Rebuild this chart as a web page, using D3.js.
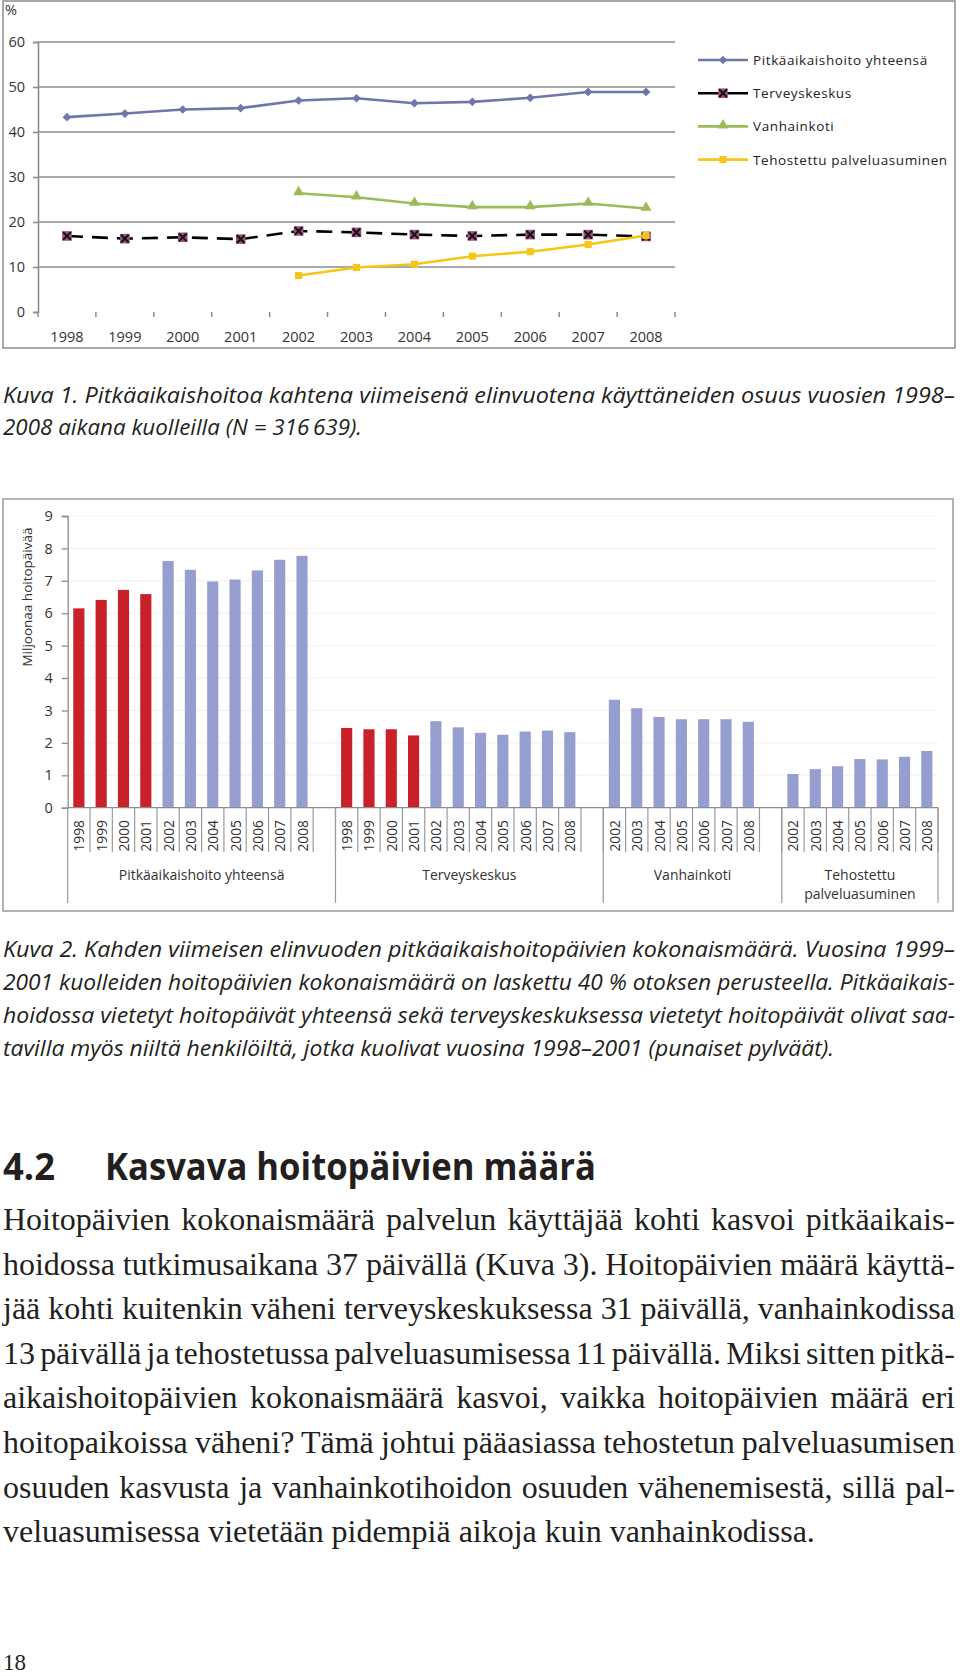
<!DOCTYPE html>
<html>
<head>
<meta charset="utf-8">
<script src="https://cdn.jsdelivr.net/npm/d3@7/dist/d3.min.js"></script>
<style>
body { margin: 0; background: #fff; }
svg { display: block; }
</style>
</head>
<body>
<svg id="page" width="960" height="1676"></svg>
<script>
// ---- Kuva 1: osuus kuolleista (%) ----
const years = ["1998", "1999", "2000", "2001", "2002", "2003", "2004", "2005", "2006", "2007", "2008"];
const yearsLate = ["2002", "2003", "2004", "2005", "2006", "2007", "2008"];
const shareTotal = [43.3, 44.1, 45.0, 45.3, 47.0, 47.5, 46.4, 46.7, 47.6, 48.9, 48.9];
const shareHealthCentre = [16.9, 16.3, 16.6, 16.2, 18.0, 17.7, 17.2, 16.9, 17.2, 17.2, 16.8];
const shareNursingHome = [26.4, 25.5, 24.1, 23.3, 23.3, 24.1, 23.0];
const shareServiceHousing = [8.1, 9.9, 10.6, 12.4, 13.4, 15.0, 17.0];
const shareTicks = [0, 10, 20, 30, 40, 50, 60];
const seriesNames = ["Pitkäaikaishoito yhteensä", "Terveyskeskus", "Vanhainkoti", "Tehostettu palveluasuminen"];

// ---- Kuva 2: hoitopäivät (miljoonaa) ----
const daysTotal = [6.15, 6.41, 6.72, 6.59, 7.61, 7.34, 6.98, 7.04, 7.32, 7.65, 7.77];
const daysHealthCentre = [2.46, 2.42, 2.42, 2.23, 2.67, 2.48, 2.31, 2.25, 2.35, 2.38, 2.33];
const daysNursingHome = [3.33, 3.07, 2.80, 2.73, 2.73, 2.73, 2.65];
const daysServiceHousing = [1.04, 1.19, 1.28, 1.50, 1.49, 1.57, 1.75];
const dayTicks = [0, 1, 2, 3, 4, 5, 6, 7, 8, 9];
const sampleYears = ["1998", "1999", "2000", "2001"];
const groupLabels = [["Pitkäaikaishoito yhteensä"], ["Terveyskeskus"], ["Vanhainkoti"], ["Tehostettu", "palveluasuminen"]];

// ---- texts ----
const caption1 = [
    "Kuva 1. Pitkäaikaishoitoa kahtena viimeisenä elinvuotena käyttäneiden osuus vuosien 1998–",
    "2008 aikana kuolleilla (N = 316\u2009639)."
];
const caption2 = [
    "Kuva 2. Kahden viimeisen elinvuoden pitkäaikaishoitopäivien kokonaismäärä. Vuosina 1999–",
    "2001 kuolleiden hoitopäivien kokonaismäärä on laskettu 40 % otoksen perusteella. Pitkäaikais-",
    "hoidossa vietetyt hoitopäivät yhteensä sekä terveyskeskuksessa vietetyt hoitopäivät olivat saa-",
    "tavilla myös niiltä henkilöiltä, jotka kuolivat vuosina 1998–2001 (punaiset pylväät)."
];
const headingNumber = "4.2";
const headingText = "Kasvava hoitopäivien määrä";
const bodyLines = [
    "Hoitopäivien kokonaismäärä palvelun käyttäjää kohti kasvoi pitkäaikais-",
    "hoidossa tutkimusaikana 37 päivällä (Kuva 3). Hoitopäivien määrä käyttä-",
    "jää kohti kuitenkin väheni terveyskeskuksessa 31 päivällä, vanhainkodissa",
    "13 päivällä ja tehostetussa palveluasumisessa 11 päivällä. Miksi sitten pitkä-",
    "aikaishoitopäivien kokonaismäärä kasvoi, vaikka hoitopäivien määrä eri",
    "hoitopaikoissa väheni? Tämä johtui pääasiassa tehostetun palveluasumisen",
    "osuuden kasvusta ja vanhainkotihoidon osuuden vähenemisestä, sillä pal-",
    "veluasumisessa vietetään pidempiä aikoja kuin vanhainkodissa."
];
const pageNumber = "18";

const chartFont = "'Open Sans', sans-serif";
const textColor = "#231f20";
const frameColor = "#8c8c8c";

let svg = d3.select("#page");

drawLineChart();
drawBarChart();
drawCaption(caption1, 403, 32, 362);
drawCaption(caption2, 957, 33, 834);
drawBody();

function addMarker(g, type, color, cx, cy)
{
    if(type == "diamond")
    {
        g.append("path")
        .attr("d", d3.symbol(d3.symbolSquare, 38)())
        .attr("transform", "translate(" + cx + "," + cy + ") rotate(45)")
        .attr("fill", color);
    }
    else if(type == "xsquare")
    {
        g.append("path")
        .attr("d", d3.symbol(d3.symbolSquare, 92)())
        .attr("transform", "translate(" + cx + "," + cy + ")")
        .attr("fill", color);
        g.append("path")
        .attr("d", d3.symbol(d3.symbolX, 40)())
        .attr("transform", "translate(" + cx + "," + cy + ")")
        .attr("stroke", "#111")
        .attr("stroke-width", 2);
    }
    else if(type == "triangle")
    {
        g.append("path")
        .attr("d", d3.symbol(d3.symbolTriangle, 52)())
        .attr("transform", "translate(" + cx + "," + (cy - 1) + ")")
        .attr("fill", color);
    }
    else
    {
        g.append("path")
        .attr("d", d3.symbol(d3.symbolSquare, 50)())
        .attr("transform", "translate(" + cx + "," + cy + ")")
        .attr("fill", color);
    }
}

function drawLineChart()
{
    let g = svg.append("g");

    g.append("rect")
    .attr("x", 3).attr("y", 1)
    .attr("width", 952).attr("height", 347)
    .attr("fill", "none")
    .attr("stroke", frameColor)
    .attr("stroke-width", 1.5);

    let x = d3.scaleBand().domain(years).range([38, 675]);
    let y = d3.scaleLinear().domain([0, 60]).range([312, 42]);
    let half = x.bandwidth() / 2;

    //gridlines
    g.selectAll()
    .data(shareTicks.slice(1))
    .enter()
    .append("line")
    .attr("x1", 38).attr("x2", 675)
    .attr("y1", d => y(d)).attr("y2", d => y(d))
    .attr("stroke", frameColor)
    .attr("stroke-width", 1.6);

    let yAxis = g.append("g")
    .attr("transform", "translate(38,0)")
    .call(d3.axisLeft(y).tickValues(shareTicks).tickSize(5).tickPadding(8));
    yAxis.attr("font-family", chartFont).attr("font-size", 14.5);
    yAxis.selectAll("path, line").attr("stroke", frameColor).attr("stroke-width", 1.6);
    yAxis.selectAll("text").attr("fill", "#333");

    //category ticks between the years
    g.selectAll()
    .data(years.concat([null]))
    .enter()
    .append("line")
    .attr("x1", d => d ? x(d) : x.range()[1])
    .attr("x2", d => d ? x(d) : x.range()[1])
    .attr("y1", y(0)).attr("y2", y(0) + 5)
    .attr("stroke", frameColor)
    .attr("stroke-width", 1.5);

    g.selectAll()
    .data(years)
    .enter()
    .append("text")
    .attr("x", d => x(d) + half)
    .attr("y", 342)
    .attr("text-anchor", "middle")
    .attr("font-family", chartFont)
    .attr("font-size", 14.5)
    .attr("fill", "#333")
    .text(d => d);

    g.append("text")
    .attr("x", 5).attr("y", 15)
    .attr("font-family", chartFont)
    .attr("font-size", 14.5)
    .attr("fill", "#333")
    .text("%");

    let series = [
        {name: seriesNames[0], cats: years, values: shareTotal, color: "#6f76a9", line: "#6f76a9", dash: null, marker: "diamond"},
        {name: seriesNames[1], cats: years, values: shareHealthCentre, color: "#9c4f80", line: "#000", dash: "16,9", marker: "xsquare"},
        {name: seriesNames[2], cats: yearsLate, values: shareNursingHome, color: "#9bbb59", line: "#9bbb59", dash: null, marker: "triangle"},
        {name: seriesNames[3], cats: yearsLate, values: shareServiceHousing, color: "#f5c518", line: "#f5c518", dash: null, marker: "square"}
    ];

    let lineGenerator = d3.line()
    .x(d => x(d[0]) + half)
    .y(d => y(d[1]));

    series.forEach((s) => {
        let points = s.cats.map((c, i) => [c, s.values[i]]);

        g.append("path")
        .attr("d", lineGenerator(points))
        .attr("fill", "none")
        .attr("stroke", s.line)
        .attr("stroke-width", 2.6)
        .attr("stroke-dasharray", s.dash);

        let mg = g.append("g");
        points.forEach((p) => addMarker(mg, s.marker, s.color, x(p[0]) + half, y(p[1])));
    });

    //legend
    let legend = g.append("g");
    series.forEach((s, i) => {
        let ly = 60 + i * 33.2;

        legend.append("line")
        .attr("x1", 698).attr("x2", 748)
        .attr("y1", ly).attr("y2", ly)
        .attr("stroke", s.line)
        .attr("stroke-width", 2.6);

        addMarker(legend, s.marker, s.color, 723, ly);

        legend.append("text")
        .attr("x", 753)
        .attr("y", ly + 5)
        .attr("font-family", chartFont)
        .attr("font-size", 13.5)
        .attr("letter-spacing", 0.6)
        .attr("fill", "#222")
        .text(s.name);
    });
}

function drawBarChart()
{
    let g = svg.append("g");

    g.append("rect")
    .attr("x", 3).attr("y", 499)
    .attr("width", 950).attr("height", 412)
    .attr("fill", "none")
    .attr("stroke", "#9a9a9a")
    .attr("stroke-width", 1.5);

    let groupYears = [years, years, yearsLate, yearsLate];
    let groupValues = [daysTotal, daysHealthCentre, daysNursingHome, daysServiceHousing];

    //one slot per bar, plus an empty slot after each of the first three groups
    let slots = [];
    let bars = [];
    groupYears.forEach((ys, gi) => {
        ys.forEach((yr, i) => {
            slots.push(gi + "|" + yr);
            bars.push({key: gi + "|" + yr, year: yr, value: groupValues[gi][i]});
        });
        if(gi < 3) slots.push(gi + "|");
    });

    let x = d3.scaleBand().domain(slots).range([67.7, 938]);
    let y = d3.scaleLinear().domain([0, 9]).range([807.7, 516]);
    let step = x.bandwidth();

    g.selectAll()
    .data(dayTicks.slice(1))
    .enter()
    .append("line")
    .attr("x1", 67.7).attr("x2", 938)
    .attr("y1", d => y(d)).attr("y2", d => y(d))
    .attr("stroke", "#f0f0f0")
    .attr("stroke-width", 1);

    let yAxis = g.append("g")
    .attr("transform", "translate(67.7,0)")
    .call(d3.axisLeft(y).tickValues(dayTicks).tickSize(6).tickPadding(9));
    yAxis.attr("font-family", chartFont).attr("font-size", 14.5);
    yAxis.selectAll("path, line").attr("stroke", frameColor).attr("stroke-width", 1.3);
    yAxis.selectAll("text").attr("fill", "#333");

    g.append("text")
    .attr("transform", "translate(27,597) rotate(-90)")
    .attr("text-anchor", "middle")
    .attr("dominant-baseline", "central")
    .attr("font-family", chartFont)
    .attr("font-size", 13.5)
    .attr("fill", "#333")
    .text("Miljoonaa hoitopäivää");

    g.selectAll()
    .data(bars)
    .enter()
    .append("rect")
    .attr("x", d => x(d.key) + step * 0.25)
    .attr("width", step * 0.5)
    .attr("y", d => y(d.value))
    .attr("height", d => y(0) - y(d.value))
    .attr("fill", d => sampleYears.indexOf(d.year) >= 0 ? "#c9212a" : "#959ecf");

    //x axis line and category separators
    g.append("line")
    .attr("x1", 67.7).attr("x2", 938)
    .attr("y1", y(0)).attr("y2", y(0))
    .attr("stroke", frameColor)
    .attr("stroke-width", 1.3);

    let groupStarts = groupYears.map((ys, gi) => x(gi + "|" + ys[0]));
    let groupEnds = groupStarts.slice(1).concat([x.range()[1]]);

    g.selectAll()
    .data(slots)
    .enter()
    .append("line")
    .attr("x1", d => x(d) + step).attr("x2", d => x(d) + step)
    .attr("y1", y(0)).attr("y2", 852)
    .attr("stroke", "#9a9a9a")
    .attr("stroke-width", 1.2);

    g.selectAll()
    .data(groupStarts.concat([x.range()[1]]))
    .enter()
    .append("line")
    .attr("x1", d => d).attr("x2", d => d)
    .attr("y1", y(0)).attr("y2", 903)
    .attr("stroke", "#9a9a9a")
    .attr("stroke-width", 1.2);

    g.selectAll()
    .data(bars)
    .enter()
    .append("text")
    .attr("transform", d => "translate(" + (x(d.key) + step / 2) + ",820) rotate(-90)")
    .attr("text-anchor", "end")
    .attr("dominant-baseline", "central")
    .attr("font-family", chartFont)
    .attr("font-size", 13.8)
    .attr("fill", "#333")
    .text(d => d.year);

    groupLabels.forEach((lines, gi) => {
        let cx = (groupStarts[gi] + groupEnds[gi]) / 2;
        lines.forEach((line, li) => {
            g.append("text")
            .attr("x", cx)
            .attr("y", 880 + li * 19)
            .attr("text-anchor", "middle")
            .attr("font-family", chartFont)
            .attr("font-size", 14)
            .attr("fill", "#333")
            .text(line);
        });
    });
}

function drawCaption(lines, firstBaseline, lineGap, lastLineEnd)
{
    let g = svg.append("g");
    lines.forEach((line, i) => {
        let last = i == lines.length - 1;
        g.append("text")
        .attr("x", 3)
        .attr("y", firstBaseline + i * lineGap)
        .attr("font-family", chartFont)
        .attr("font-style", "italic")
        .attr("font-size", 22)
        .attr("fill", textColor)
        .attr("textLength", last ? lastLineEnd - 3 : 952)
        .attr("lengthAdjust", "spacingAndGlyphs")
        .text(line);
    });
}

function drawBody()
{
    let g = svg.append("g");

    g.append("text")
    .attr("x", 3).attr("y", 1180)
    .attr("font-family", chartFont)
    .attr("font-weight", "bold")
    .attr("font-size", 38)
    .attr("fill", textColor)
    .attr("textLength", 52)
    .attr("lengthAdjust", "spacingAndGlyphs")
    .text(headingNumber);

    g.append("text")
    .attr("x", 105).attr("y", 1180)
    .attr("font-family", chartFont)
    .attr("font-weight", "bold")
    .attr("font-size", 38)
    .attr("fill", textColor)
    .attr("textLength", 491)
    .attr("lengthAdjust", "spacingAndGlyphs")
    .text(headingText);

    //size the serif so the last (unjustified) line ends where it does in print
    let probe = g.append("text")
    .attr("font-family", "'Liberation Serif', serif")
    .attr("font-size", 28)
    .text(bodyLines[bodyLines.length - 1]);
    let bodySize = 28 * 812 / probe.node().getComputedTextLength();
    probe.remove();

    bodyLines.forEach((line, i) => {
        let t = g.append("text")
        .attr("x", 3)
        .attr("y", 1230 + i * 44.6)
        .attr("font-family", "'Liberation Serif', serif")
        .attr("font-size", bodySize)
        .attr("fill", textColor)
        .text(line);

        if(i < bodyLines.length - 1)
        {
            let w = t.node().getComputedTextLength();
            let spaces = line.split(" ").length - 1;
            t.style("word-spacing", ((952 - w) / spaces) + "px");
        }
    });

    g.append("text")
    .attr("x", 3).attr("y", 1670)
    .attr("font-family", "'Liberation Serif', serif")
    .attr("font-size", 23)
    .attr("fill", textColor)
    .text(pageNumber);
}
</script>
</body>
</html>
